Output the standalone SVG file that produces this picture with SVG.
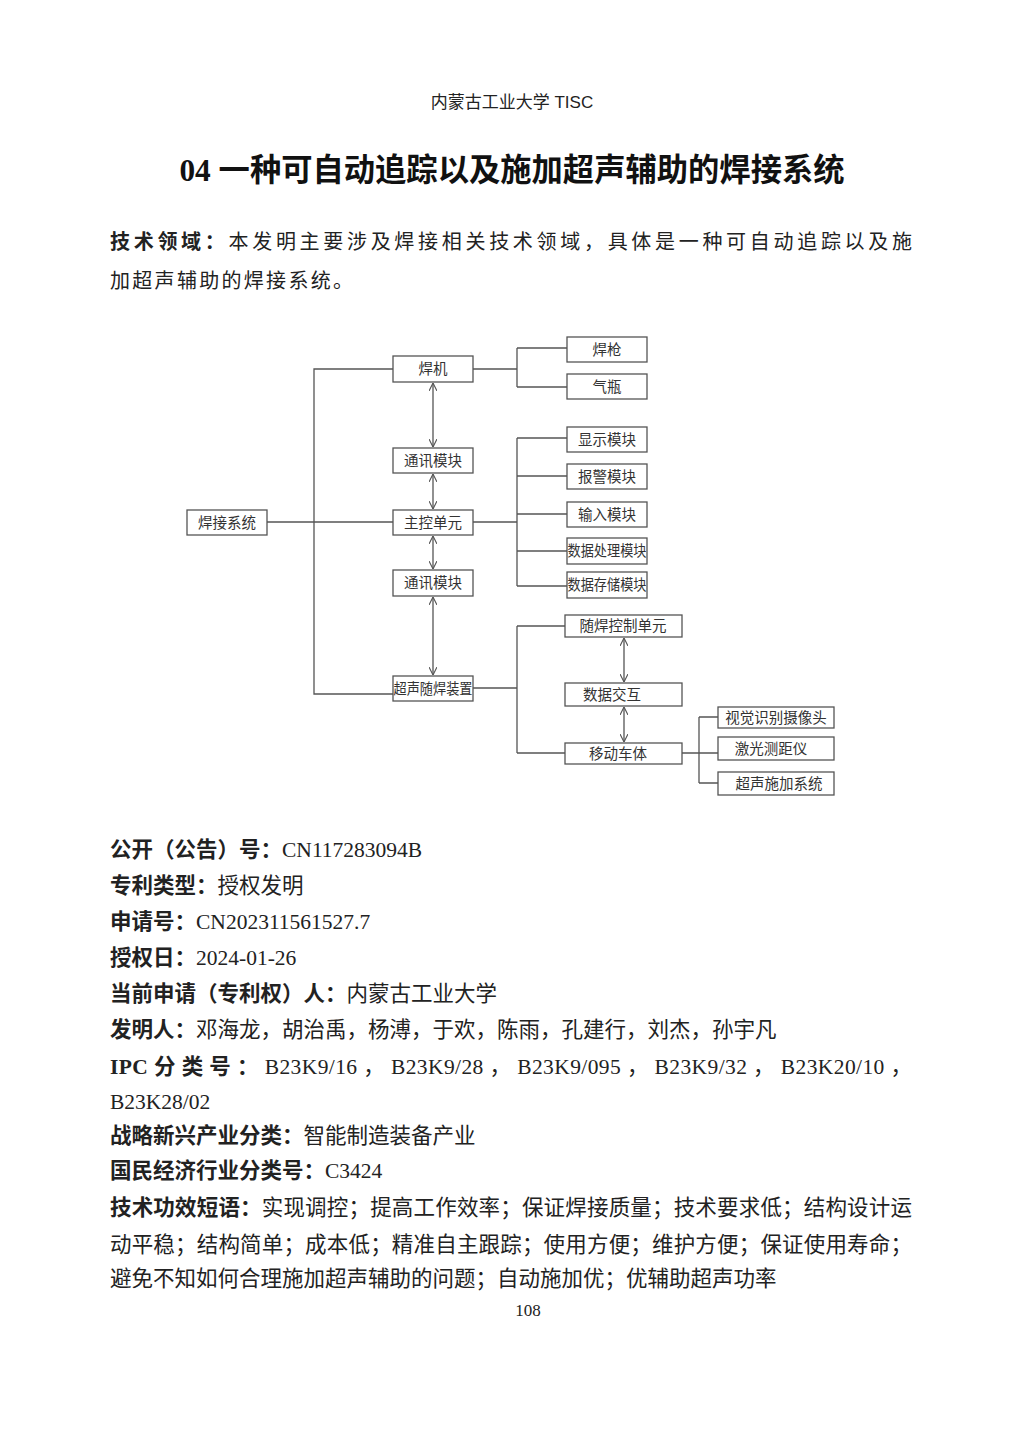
<svg xmlns="http://www.w3.org/2000/svg" width="1024" height="1448" viewBox="0 0 1024 1448">
<style>
.pg{font-family:"Liberation Serif","Noto Sans CJK SC",serif;fill:#222;}
.hd{font-family:"Liberation Sans","Noto Sans CJK SC",sans-serif;font-size:17px;fill:#222;}
.tt{font-family:"Liberation Serif","Noto Sans CJK SC",serif;font-size:31.3px;font-weight:bold;fill:#111;}
.body{font-size:21.5px;}
.b{font-weight:bold;}
.box{fill:#fff;stroke:#555;stroke-width:1.3;}
.bt{font-family:"Liberation Serif","Noto Sans CJK SC",serif;font-size:14.5px;fill:#333;text-anchor:middle;}
.ln{fill:none;stroke:#555;stroke-width:1.3;}
.ar{fill:none;stroke:#555;stroke-width:1.3;marker-start:url(#ah);marker-end:url(#ah);}
</style>
<defs>
<marker id="ah" viewBox="0 0 10 10" refX="10" refY="5" markerWidth="8" markerHeight="8" markerUnits="userSpaceOnUse" orient="auto-start-reverse">
<path d="M0,0 L10,5 L0,10" fill="none" stroke="#555" stroke-width="1.4"/>
</marker>
</defs>
<rect width="1024" height="1448" fill="#fff"/>

<text class="hd" x="512" y="108" text-anchor="middle">内蒙古工业大学 TISC</text>
<text class="tt" x="512" y="181" text-anchor="middle">04 一种可自动追踪以及施加超声辅助的焊接系统</text>

<text class="pg" x="110" y="249" font-size="20" textLength="802" lengthAdjust="spacing"><tspan class="b">技术领域：</tspan>本发明主要涉及焊接相关技术领域，具体是一种可自动追踪以及施</text>
<text class="pg" x="110" y="288" font-size="20" letter-spacing="2.3">加超声辅助的焊接系统。</text>

<g id="connectors">
<path class="ln" d="M267,522 H393"/>
<path class="ln" d="M393,369 H314 V694 H393"/>
<path class="ln" d="M473,369 H517 M517,348 V387 M517,348 H567 M517,387 H567"/>
<path class="ln" d="M473,522 H517 M517,438 V586 M517,438 H567 M517,476 H567 M517,514 H567 M517,551 H567 M517,586 H567"/>
<path class="ln" d="M473,688 H517 M517,626 V753 M517,626 H565 M517,753 H565"/>
<path class="ln" d="M682,753 H718 M699,717 V783 M699,717 H718 M699,783 H718"/>
<path class="ar" d="M433,383 V447"/>
<path class="ar" d="M433,474 V509"/>
<path class="ar" d="M433,536 V569"/>
<path class="ar" d="M433,597 V675"/>
<path class="ar" d="M624,638 V682"/>
<path class="ar" d="M624,707 V742"/>
</g>

<g id="n_hanjiexitong"><rect class="box" x="187" y="510" width="80" height="25"/><text class="bt" x="227" y="528">焊接系统</text></g>
<g id="n_hanji"><rect class="box" x="393" y="356" width="80" height="26"/><text class="bt" x="433" y="374">焊机</text></g>
<g id="n_tongxun1"><rect class="box" x="393" y="448" width="80" height="25"/><text class="bt" x="433" y="466">通讯模块</text></g>
<g id="n_zhukong"><rect class="box" x="393" y="510" width="80" height="25"/><text class="bt" x="433" y="528">主控单元</text></g>
<g id="n_tongxun2"><rect class="box" x="393" y="570" width="80" height="26"/><text class="bt" x="433" y="588">通讯模块</text></g>
<g id="n_chaosheng"><rect class="box" x="393" y="676" width="80" height="25"/><text class="bt" x="433" y="694" textLength="79" lengthAdjust="spacingAndGlyphs">超声随焊装置</text></g>
<g id="n_hanqiang"><rect class="box" x="567" y="337" width="80" height="25"/><text class="bt" x="607" y="355">焊枪</text></g>
<g id="n_qiping"><rect class="box" x="567" y="374" width="80" height="25"/><text class="bt" x="607" y="392">气瓶</text></g>
<g id="n_xianshi"><rect class="box" x="567" y="427" width="80" height="25"/><text class="bt" x="607" y="445">显示模块</text></g>
<g id="n_baojing"><rect class="box" x="567" y="464" width="80" height="25"/><text class="bt" x="607" y="482">报警模块</text></g>
<g id="n_shuru"><rect class="box" x="567" y="502" width="80" height="25"/><text class="bt" x="607" y="520">输入模块</text></g>
<g id="n_chuli"><rect class="box" x="567" y="538" width="80" height="26"/><text class="bt" x="607" y="556" textLength="79" lengthAdjust="spacingAndGlyphs">数据处理模块</text></g>
<g id="n_cunchu"><rect class="box" x="567" y="572" width="80" height="26"/><text class="bt" x="607" y="590" textLength="79" lengthAdjust="spacingAndGlyphs">数据存储模块</text></g>
<g id="n_suihan"><rect class="box" x="565" y="615" width="117" height="22"/><text class="bt" x="623" y="631">随焊控制单元</text></g>
<g id="n_jiaohu"><rect class="box" x="565" y="683" width="117" height="23"/><text class="bt" x="612" y="700">数据交互</text></g>
<g id="n_chema"><rect class="box" x="565" y="743" width="117" height="21"/><text class="bt" x="618" y="759">移动车体</text></g>
<g id="n_shijue"><rect class="box" x="718" y="707" width="116" height="21"/><text class="bt" x="776" y="723">视觉识别摄像头</text></g>
<g id="n_jiguang"><rect class="box" x="718" y="737" width="116" height="23"/><text class="bt" x="771" y="754">激光测距仪</text></g>
<g id="n_shijia"><rect class="box" x="718" y="772" width="116" height="23"/><text class="bt" x="779" y="789">超声施加系统</text></g>

<g class="pg body">
<text x="110" y="857"><tspan class="b">公开（公告）号：</tspan>CN117283094B</text>
<text x="110" y="893"><tspan class="b">专利类型：</tspan>授权发明</text>
<text x="110" y="929"><tspan class="b">申请号：</tspan>CN202311561527.7</text>
<text x="110" y="965"><tspan class="b">授权日：</tspan>2024-01-26</text>
<text x="110" y="1001"><tspan class="b">当前申请（专利权）人：</tspan>内蒙古工业大学</text>
<text x="110" y="1037"><tspan class="b">发明人：</tspan>邓海龙，胡治禹，杨溥，于欢，陈雨，孔建行，刘杰，孙宇凡</text>
<text x="110" y="1074" textLength="802" lengthAdjust="spacing"><tspan class="b">IPC 分 类 号 ：</tspan> B23K9/16 ， B23K9/28 ， B23K9/095 ， B23K9/32 ， B23K20/10 ，</text>
<text x="110" y="1109">B23K28/02</text>
<text x="110" y="1143"><tspan class="b">战略新兴产业分类：</tspan>智能制造装备产业</text>
<text x="110" y="1178"><tspan class="b">国民经济行业分类号：</tspan>C3424</text>
<text x="110" y="1215" textLength="802" lengthAdjust="spacing"><tspan class="b">技术功效短语：</tspan>实现调控；提高工作效率；保证焊接质量；技术要求低；结构设计运</text>
<text x="110" y="1252" textLength="802" lengthAdjust="spacing">动平稳；结构简单；成本低；精准自主跟踪；使用方便；维护方便；保证使用寿命；</text>
<text x="110" y="1286">避免不知如何合理施加超声辅助的问题；自动施加优；优辅助超声功率</text>
</g>
<text class="pg" x="528" y="1316" font-size="17" text-anchor="middle">108</text>
</svg>
